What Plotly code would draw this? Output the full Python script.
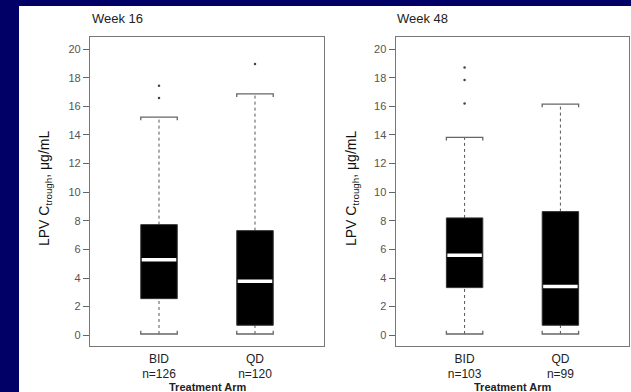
import plotly.graph_objects as go

# ---- data ----
panels = ["Week 16", "Week 48"]
groups = ["BID", "QD"]
n_labels = [["n=126", "n=120"], ["n=103", "n=99"]]
q1 = [[2.56, 0.70], [3.33, 0.70]]
median = [[5.27, 3.78], [5.59, 3.40]]
q3 = [[7.73, 7.31], [8.20, 8.64]]
lower_whisker = [[0.09, 0.09], [0.09, 0.09]]
upper_whisker = [[15.24, 16.87], [13.82, 16.15]]
outliers = [[[16.57, 17.43], [18.95]], [[16.20, 17.83, 18.71], []]]
y_ticks = [0, 2, 4, 6, 8, 10, 12, 14, 16, 18, 20]

W, H = 631, 392
HALF = 0.19     # half box width in x units
CAPD = 0.22     # cap end tick length in y units

fig = go.Figure()

def px2fx(p):
    return p / W

def px2fy(p):
    return 1 - p / H

domains_x = [[px2fx(90), px2fx(324)], [px2fx(395.7), px2fx(629.3)]]
domain_y = [px2fy(346), px2fy(37)]

for pi in range(2):
    xa = "x" if pi == 0 else "x2"
    ya = "y" if pi == 0 else "y2"
    for gi in range(2):
        xc = gi + 1
        # whiskers (dotted)
        fig.add_trace(go.Scatter(
            x=[xc, xc, None, xc, xc],
            y=[lower_whisker[pi][gi], q1[pi][gi], None, q3[pi][gi], upper_whisker[pi][gi]],
            mode="lines", line=dict(color="#555555", width=1, dash="dot"),
            xaxis=xa, yaxis=ya, showlegend=False, hoverinfo="skip"))
        # caps (bracket style)
        up = upper_whisker[pi][gi]
        lo = lower_whisker[pi][gi]
        fig.add_trace(go.Scatter(
            x=[xc - HALF, xc - HALF, xc + HALF, xc + HALF, None,
               xc - HALF, xc - HALF, xc + HALF, xc + HALF],
            y=[up - CAPD, up, up, up - CAPD, None,
               lo + CAPD, lo, lo, lo + CAPD],
            mode="lines", line=dict(color="#666666", width=1.3),
            xaxis=xa, yaxis=ya, showlegend=False, hoverinfo="skip"))
        # box
        fig.add_trace(go.Scatter(
            x=[xc - HALF, xc + HALF, xc + HALF, xc - HALF, xc - HALF],
            y=[q1[pi][gi], q1[pi][gi], q3[pi][gi], q3[pi][gi], q1[pi][gi]],
            mode="lines", fill="toself", fillcolor="black",
            line=dict(color="#333333", width=1),
            xaxis=xa, yaxis=ya, showlegend=False, hoverinfo="skip"))
        # median
        fig.add_trace(go.Scatter(
            x=[xc - HALF + 0.01, xc + HALF - 0.01],
            y=[median[pi][gi], median[pi][gi]],
            mode="lines", line=dict(color="white", width=3.5),
            xaxis=xa, yaxis=ya, showlegend=False, hoverinfo="skip"))
        # outliers
        if outliers[pi][gi]:
            fig.add_trace(go.Scatter(
                x=[xc] * len(outliers[pi][gi]), y=outliers[pi][gi],
                mode="markers", marker=dict(color="#444444", size=2.5),
                xaxis=xa, yaxis=ya, showlegend=False, hoverinfo="skip"))

axis_common = dict(showgrid=False, zeroline=False, showline=True, mirror=True,
                   linecolor="#777777", linewidth=1.3)
for pi in range(2):
    sx = "" if pi == 0 else "2"
    fig.update_layout(**{
        f"xaxis{sx}": dict(axis_common, domain=domains_x[pi], range=[0.281, 2.719],
                           tickvals=[1, 2],
                           ticktext=[f"{g}<br>{n}" for g, n in zip(groups, n_labels[pi])],
                           ticks="", ticklabelstandoff=1,
                           tickfont=dict(size=12, color="#222222"),
                           anchor="y" + sx),
        f"yaxis{sx}": dict(axis_common, domain=domain_y, range=[-0.75, 20.84],
                           tickvals=y_ticks, ticks="outside", ticklen=6,
                           tickcolor="#666666",
                           tickfont=dict(size=11, color="#555555"),
                           anchor="x" + sx),
    })

annotations = []
title_x = [90, 395]
ytitle_x = [45, 352]
xtitle_x = [159 + 48, 464 + 48]
for pi in range(2):
    annotations.append(dict(text=panels[pi], x=px2fx(title_x[pi]), y=px2fy(18),
                            xref="paper", yref="paper", xanchor="left", yanchor="middle",
                            showarrow=False, font=dict(size=13, color="#222222")))
    annotations.append(dict(text="LPV C<sub>trough</sub>, μg/mL", x=px2fx(ytitle_x[pi]),
                            y=px2fy(189), xref="paper", yref="paper",
                            xanchor="center", yanchor="middle", textangle=-90,
                            showarrow=False, font=dict(size=14, color="#111111")))
    annotations.append(dict(text="<b>Treatment Arm</b>", x=px2fx(xtitle_x[pi]),
                            y=px2fy(387), xref="paper", yref="paper",
                            xanchor="center", yanchor="middle",
                            showarrow=False, font=dict(size=11, color="#222222")))

fig.update_layout(
    width=W, height=H,
    margin=dict(l=0, r=0, t=0, b=0),
    paper_bgcolor="#000066",
    plot_bgcolor="white",
    font=dict(family="Liberation Sans, Arial, sans-serif"),
    annotations=annotations,
    shapes=[dict(type="rect", xref="paper", yref="paper",
                 x0=px2fx(19), x1=1, y0=0, y1=px2fy(6),
                 fillcolor="white", line=dict(width=0), layer="below")],
)

fig.write_html(
    "out.html",
    config={"displayModeBar": False},
    post_script="document.body.style.margin='0';document.body.style.background='#000066';",
)
